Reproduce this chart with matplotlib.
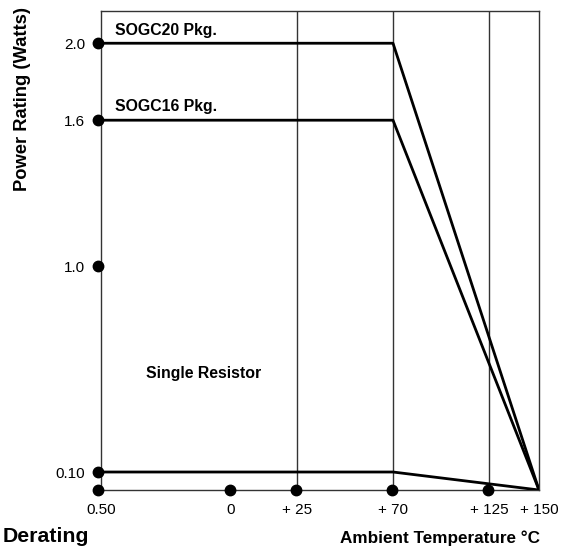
import numpy as np
import matplotlib.pyplot as plt
import matplotlib.transforms as mtransforms

plt.rcParams['font.family'] = ['Liberation Sans', 'DejaVu Sans']

# x axis: temperature (not linear in the original, so a piecewise scale is used)
x_ticks = [-55, 0, 25, 70, 125, 150]
x_labels = ['0.50', '0', '+ 25', '+ 70', '+ 125', '+ 150']
y_ticks = [0.10, 1.0, 1.6, 2.0]
y_labels = ['0.10', '1.0', '1.6', '2.0']

temp = [-55, 70, 150]
sogc20 = [2.0, 2.0, 0.0]
sogc16 = [1.6, 1.6, 0.0]
single = [0.10, 0.10, 0.0]

# scale knots (value -> position along the axis)
x_knots = [-55, 0, 25, 70, 125, 150]
x_pos = [0, 130, 196, 292, 388, 438]
y_knots = [0.0, 0.10, 1.0, 1.6, 2.0, 2.3]
y_pos = [0, 18, 224, 370, 447, 506]


def fwd(k, p):
    return lambda v: np.interp(v, k, p)


def inv(k, p):
    return lambda v: np.interp(v, p, k)


fig = plt.figure(figsize=(5.61, 5.50), dpi=100)
ax = fig.add_axes([101 / 561, 60 / 550, 438 / 561, 479 / 550])
ax.set_xscale('function', functions=(fwd(x_knots, x_pos), inv(x_knots, x_pos)))
ax.set_yscale('function', functions=(fwd(y_knots, y_pos), inv(y_knots, y_pos)))
ax.set_xlim(-55, 150)
ax.set_ylim(0, 2.164)

for t in [25, 70, 125]:
    ax.axvline(t, color='#333333', lw=1.0, zorder=1)

for s in [sogc20, sogc16, single]:
    ax.plot(temp, s, color='black', lw=2.0, zorder=3)

# dots on the axes (sit a little left of the lines in the original)
shift_l = ax.transData + mtransforms.ScaledTranslation(-3 / 100, 0, fig.dpi_scale_trans)
shift_b = ax.transData + mtransforms.ScaledTranslation(-1.5 / 100, 0, fig.dpi_scale_trans)
ax.plot([-55] * 5, [0.0] + y_ticks, 'o', color='black', ms=7.5, clip_on=False,
        zorder=5, transform=shift_l)
ax.plot(x_ticks[1:5], [0.0] * 4, 'o', color='black', ms=7.5, clip_on=False,
        zorder=5, transform=shift_b)

for sp in ax.spines.values():
    sp.set_color('#333333')
    sp.set_linewidth(1.0)

ax.set_xticks(x_ticks)
ax.set_xticklabels(x_labels, fontsize=11)
ax.set_yticks(y_ticks)
ax.set_yticklabels(y_labels, fontsize=11)
ax.tick_params(axis='y', length=0, pad=11.5)
ax.tick_params(axis='x', length=0, pad=9)

ax.text(0.032, 0.96, 'SOGC20 Pkg.', transform=ax.transAxes, fontsize=11.4,
        fontweight='bold', va='center')
ax.text(0.032, 0.80, 'SOGC16 Pkg.', transform=ax.transAxes, fontsize=11.4,
        fontweight='bold', va='center')
ax.text(0.235, 0.244, 'Single Resistor', transform=ax.transAxes, fontsize=11.4,
        fontweight='bold', va='center', ha='center')

fig.text(0.004, 0.025, 'Derating', fontsize=15.3, fontweight='bold', va='center')
fig.text(0.963, 0.022, 'Ambient Temperature °C', fontsize=12.3, fontweight='bold',
         va='center', ha='right')
fig.text(0.040, 0.82, 'Power Rating (Watts)', fontsize=13.2, fontweight='bold',
         va='center', ha='center', rotation=90)

fig.savefig('out.png', dpi=100)
